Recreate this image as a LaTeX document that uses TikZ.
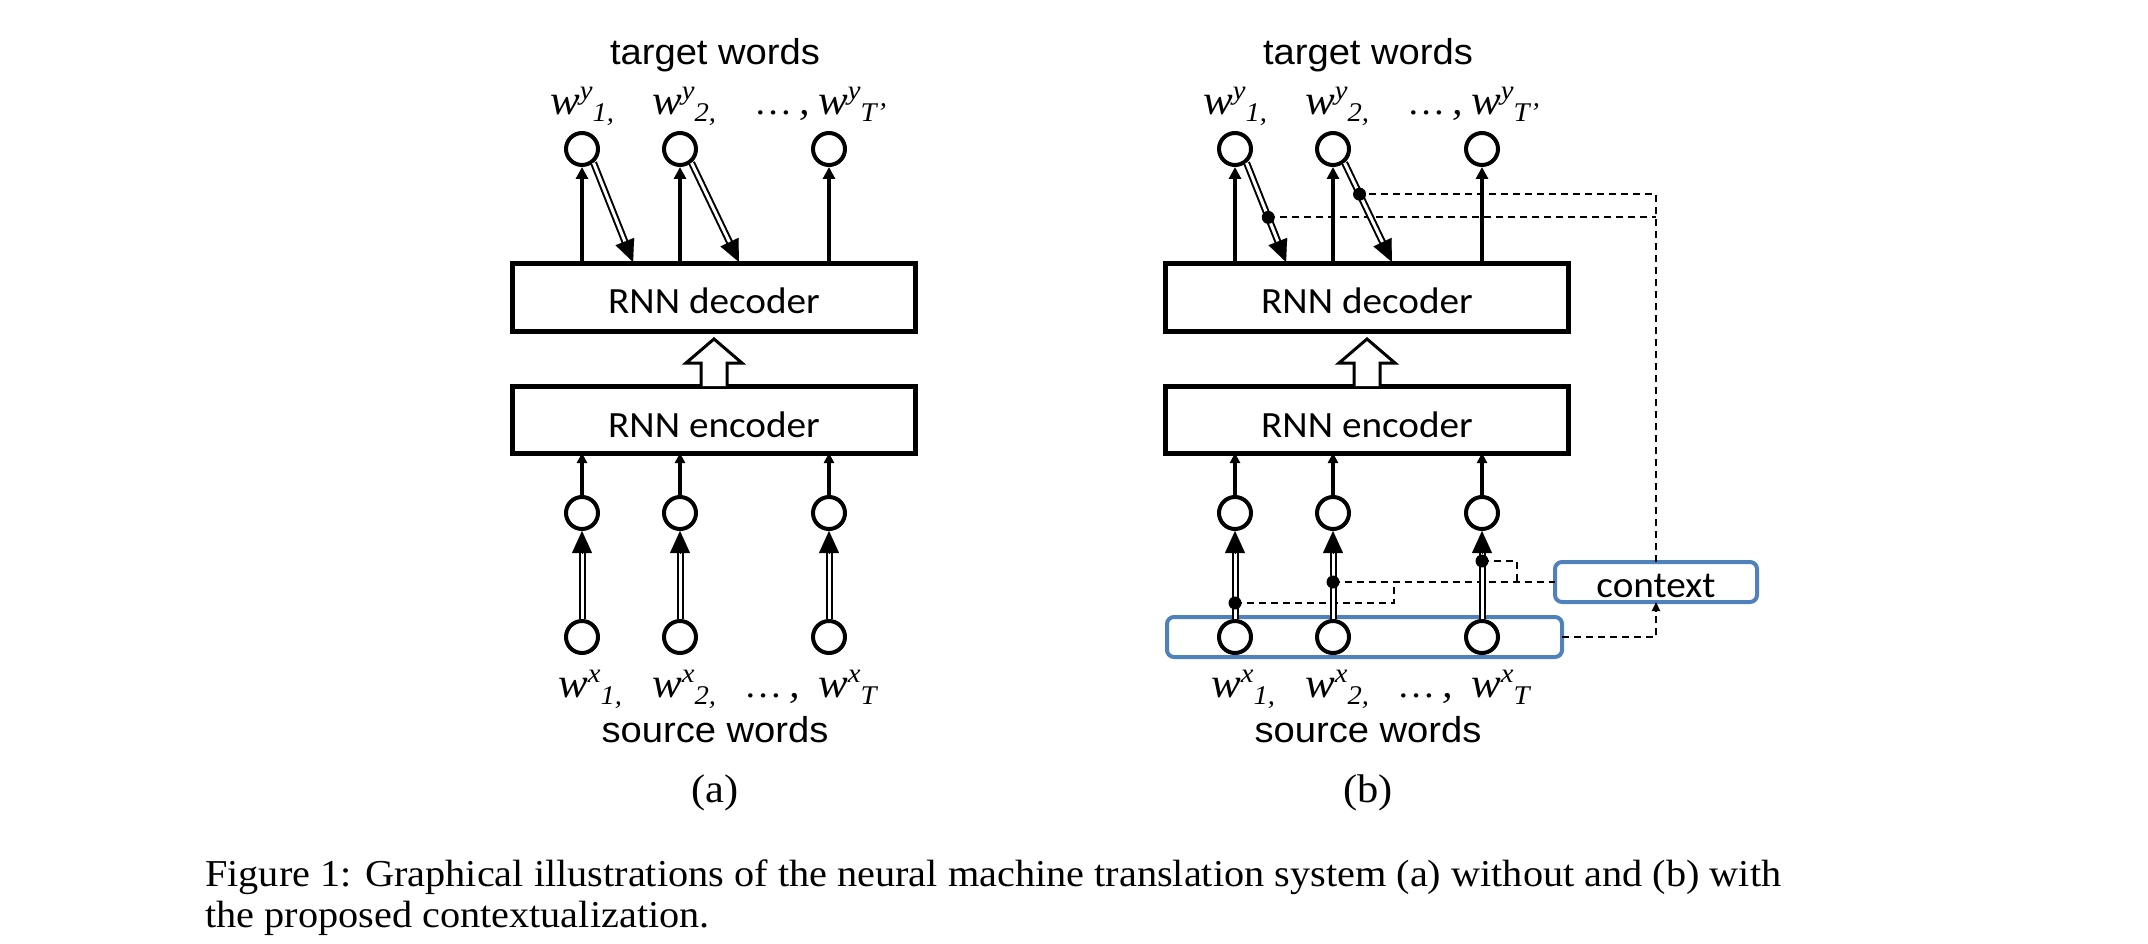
\documentclass[tikz,border=0pt]{standalone}
\usepackage{fontspec}
\setmainfont{Liberation Serif}
\newfontfamily\arialf[FakeStretch=1.06]{Liberation Sans}
\newfontfamily\calf[FakeStretch=1.06]{Carlito}
\newfontfamily\timesf[FakeStretch=1.06]{Liberation Serif}
\usetikzlibrary{arrows.meta,calc}
\definecolor{ctxblue}{RGB}{79,129,189}
\newcommand\wlab[2]{{\timesf\itshape\fontsize{42}{42}\selectfont w\raisebox{15pt}{\fontsize{27}{27}\selectfont #1}\raisebox{-7pt}{\fontsize{27}{27}\selectfont #2}}}
\newcommand\dotslab{{\timesf{\fontsize{36}{36}\selectfont …}\hspace{7pt}{\fontsize{40}{40}\selectfont\itshape ,}}}
\begin{document}
\begin{tikzpicture}[x=1pt,y=-1pt,
  box/.style={draw, line width=5pt, minimum width=403pt, minimum height=67pt, inner sep=0pt, outer sep=0pt},
  btxt/.style={font=\calf\fontsize{37}{37}\selectfont, inner sep=0pt, anchor=base},
  circ/.style={circle, draw, line width=4pt, fill=white, minimum size=32pt, inner sep=0pt},
  arr/.style={line width=4pt, -{Triangle[length=12pt,width=12pt]}},
  sarr/.style={line width=4pt, -{Triangle[length=10pt,width=10pt]}},
  dbl/.style={double, double distance=3pt, line width=2pt, shorten >=19pt},
  dhead/.style={line width=0.1pt, -{Triangle[length=22pt,width=20pt]}},
  dsh/.style={line width=2pt, dash pattern=on 7pt off 5pt},
  dotn/.style={circle, fill, inner sep=0pt, minimum size=13pt},
  wtxt/.style={inner sep=0pt, anchor=base west},
  ttl/.style={font=\arialf\fontsize{36}{36}\selectfont, inner sep=0pt, anchor=base},
  sub/.style={font=\timesf\fontsize{40}{40}\selectfont, inner sep=0pt, anchor=base},
  captxt/.style={font=\timesf\fontsize{38}{38}\selectfont, inner sep=0pt, anchor=base west},
  bluebox/.style={draw=ctxblue, line width=4pt, rounded corners=7pt, inner sep=0pt, outer sep=0pt},
  hollow/.style={draw, line width=3pt, fill=white, line join=miter}
]
\useasboundingbox (0,0) rectangle (2148,944);

% blue boxes of panel (b)
\node[bluebox, minimum width=395pt, minimum height=40pt] (src) at (1364.5,637) {};
\node[bluebox, minimum width=202pt, minimum height=40pt] (ctx) at (1656,582) {};
\node[btxt] (ctxt) at (1656,597) {context};

% nodes of both panels
\foreach \p/\dx in {a/0,b/653} {
  \begin{scope}[xshift=\dx pt]
    \node[ttl] (\p tw) at (715,65) {target words};
    \node[wtxt] (\p ly1) at (550,115) {\wlab{y}{1,}};
    \node[wtxt] (\p ly2) at (652,115) {\wlab{y}{2,}};
    \node[wtxt] (\p lyd) at (754,115) {\dotslab};
    \node[wtxt] (\p ly3) at (818,115) {\wlab{y}{T’}};
    \node[circ] (\p t1) at (582,149) {};
    \node[circ] (\p t2) at (680,149) {};
    \node[circ] (\p t3) at (829,149) {};
    \node[box] (\p dec) at (714,297.5) {};
    \node[btxt] (\p dect) at (714,313) {RNN decoder};
    \node[box] (\p enc) at (714,419.5) {};
    \node[btxt] (\p enct) at (714,437) {RNN encoder};
    \node[circ] (\p m1) at (582,513) {};
    \node[circ] (\p m2) at (680,513) {};
    \node[circ] (\p m3) at (829,513) {};
    \node[circ] (\p s1) at (582,637) {};
    \node[circ] (\p s2) at (680,637) {};
    \node[circ] (\p s3) at (829,637) {};
    \node[wtxt] (\p lx1) at (558,697) {\wlab{x}{1,}};
    \node[wtxt] (\p lx2) at (652,697) {\wlab{x}{2,}};
    \node[wtxt] (\p lxd) at (744,697) {\dotslab};
    \node[wtxt] (\p lx3) at (818,697) {\wlab{x}{T}};
    \node[ttl] (\p sw) at (715,742) {source words};
    \coordinate (\p e1) at (633,262);
    \coordinate (\p e2) at (739,262);
  \end{scope}
}
\node[sub] (suba) at (715,802) {(a)};
\node[sub] (subb) at (1368,802) {(b)};

% context wiring of panel (b)
\path (bt1.-50) -- (be1) coordinate[pos=0.55] (bq1);
\path (bt2.-50) -- (be2) coordinate[pos=0.316] (bq2);
\coordinate (bd1) at ($(bs1.center)+(0,-34)$);
\coordinate (bd2) at (bs2 |- ctx.west);
\coordinate (bd3) at ($(bs3.center)+(0,-76)$);
\coordinate (bj1) at ($(bs2 |- ctx.west)+(61,0)$);
\coordinate (bj3) at ($(bs3 |- ctx.west)+(35,0)$);
\draw[dsh] (ctx.north) |- (bq2);
\draw[dsh] (bq1) -- (bq1 -| ctx.north);
\draw[dsh] (bd1) -| (bj1);
\draw[dsh] (bd2) -- (ctx.west);
\draw[dsh] (bd3) -| (bj3);
\draw[dsh, -{Triangle[length=9pt,width=8pt]}] (src.east) -| (ctx.south);

% arrows of both panels
\foreach \p in {a,b} {
  \foreach \i in {1,2,3} {
    \draw[arr] (\p dec.north -| \p t\i) -- (\p t\i.south);
    \draw[sarr] (\p m\i.north) -- (\p m\i |- \p enc.south);
    \draw[dbl] (\p s\i.north) -- (\p m\i.south);
    \draw[dhead] ($(\p m\i.south)+(0,22)$) -- (\p m\i.south);
  }
  \foreach \i in {1,2} {
    \draw[dbl] (\p t\i.-50) -- (\p e\i);
    \draw[dhead] ($(\p e\i)!22pt!(\p t\i.-50)$) -- (\p e\i);
  }
  \draw[hollow] ($(\p enc.north)+(-13,0)$) -- ++(0,-23) -- ++(-15,0)
     -- ($(\p enc.north)+(0,-47)$) -- ($(\p enc.north)+(28,-23)$) -- ++(-15,0)
     -- ($(\p enc.north)+(13,0)$);
}

% junction dots of panel (b)
\foreach \q in {bq1,bq2,bd1,bd2,bd3} {
  \node[dotn] (n\q) at (\q) {};
}

% caption
\node[captxt] (cap1) at (205,886) {Figure 1: Graphical illustrations of the neural machine translation system (a) without and (b) with};
\node[captxt] (cap2) at (205,927) {the proposed contextualization.};
\end{tikzpicture}
\end{document}
